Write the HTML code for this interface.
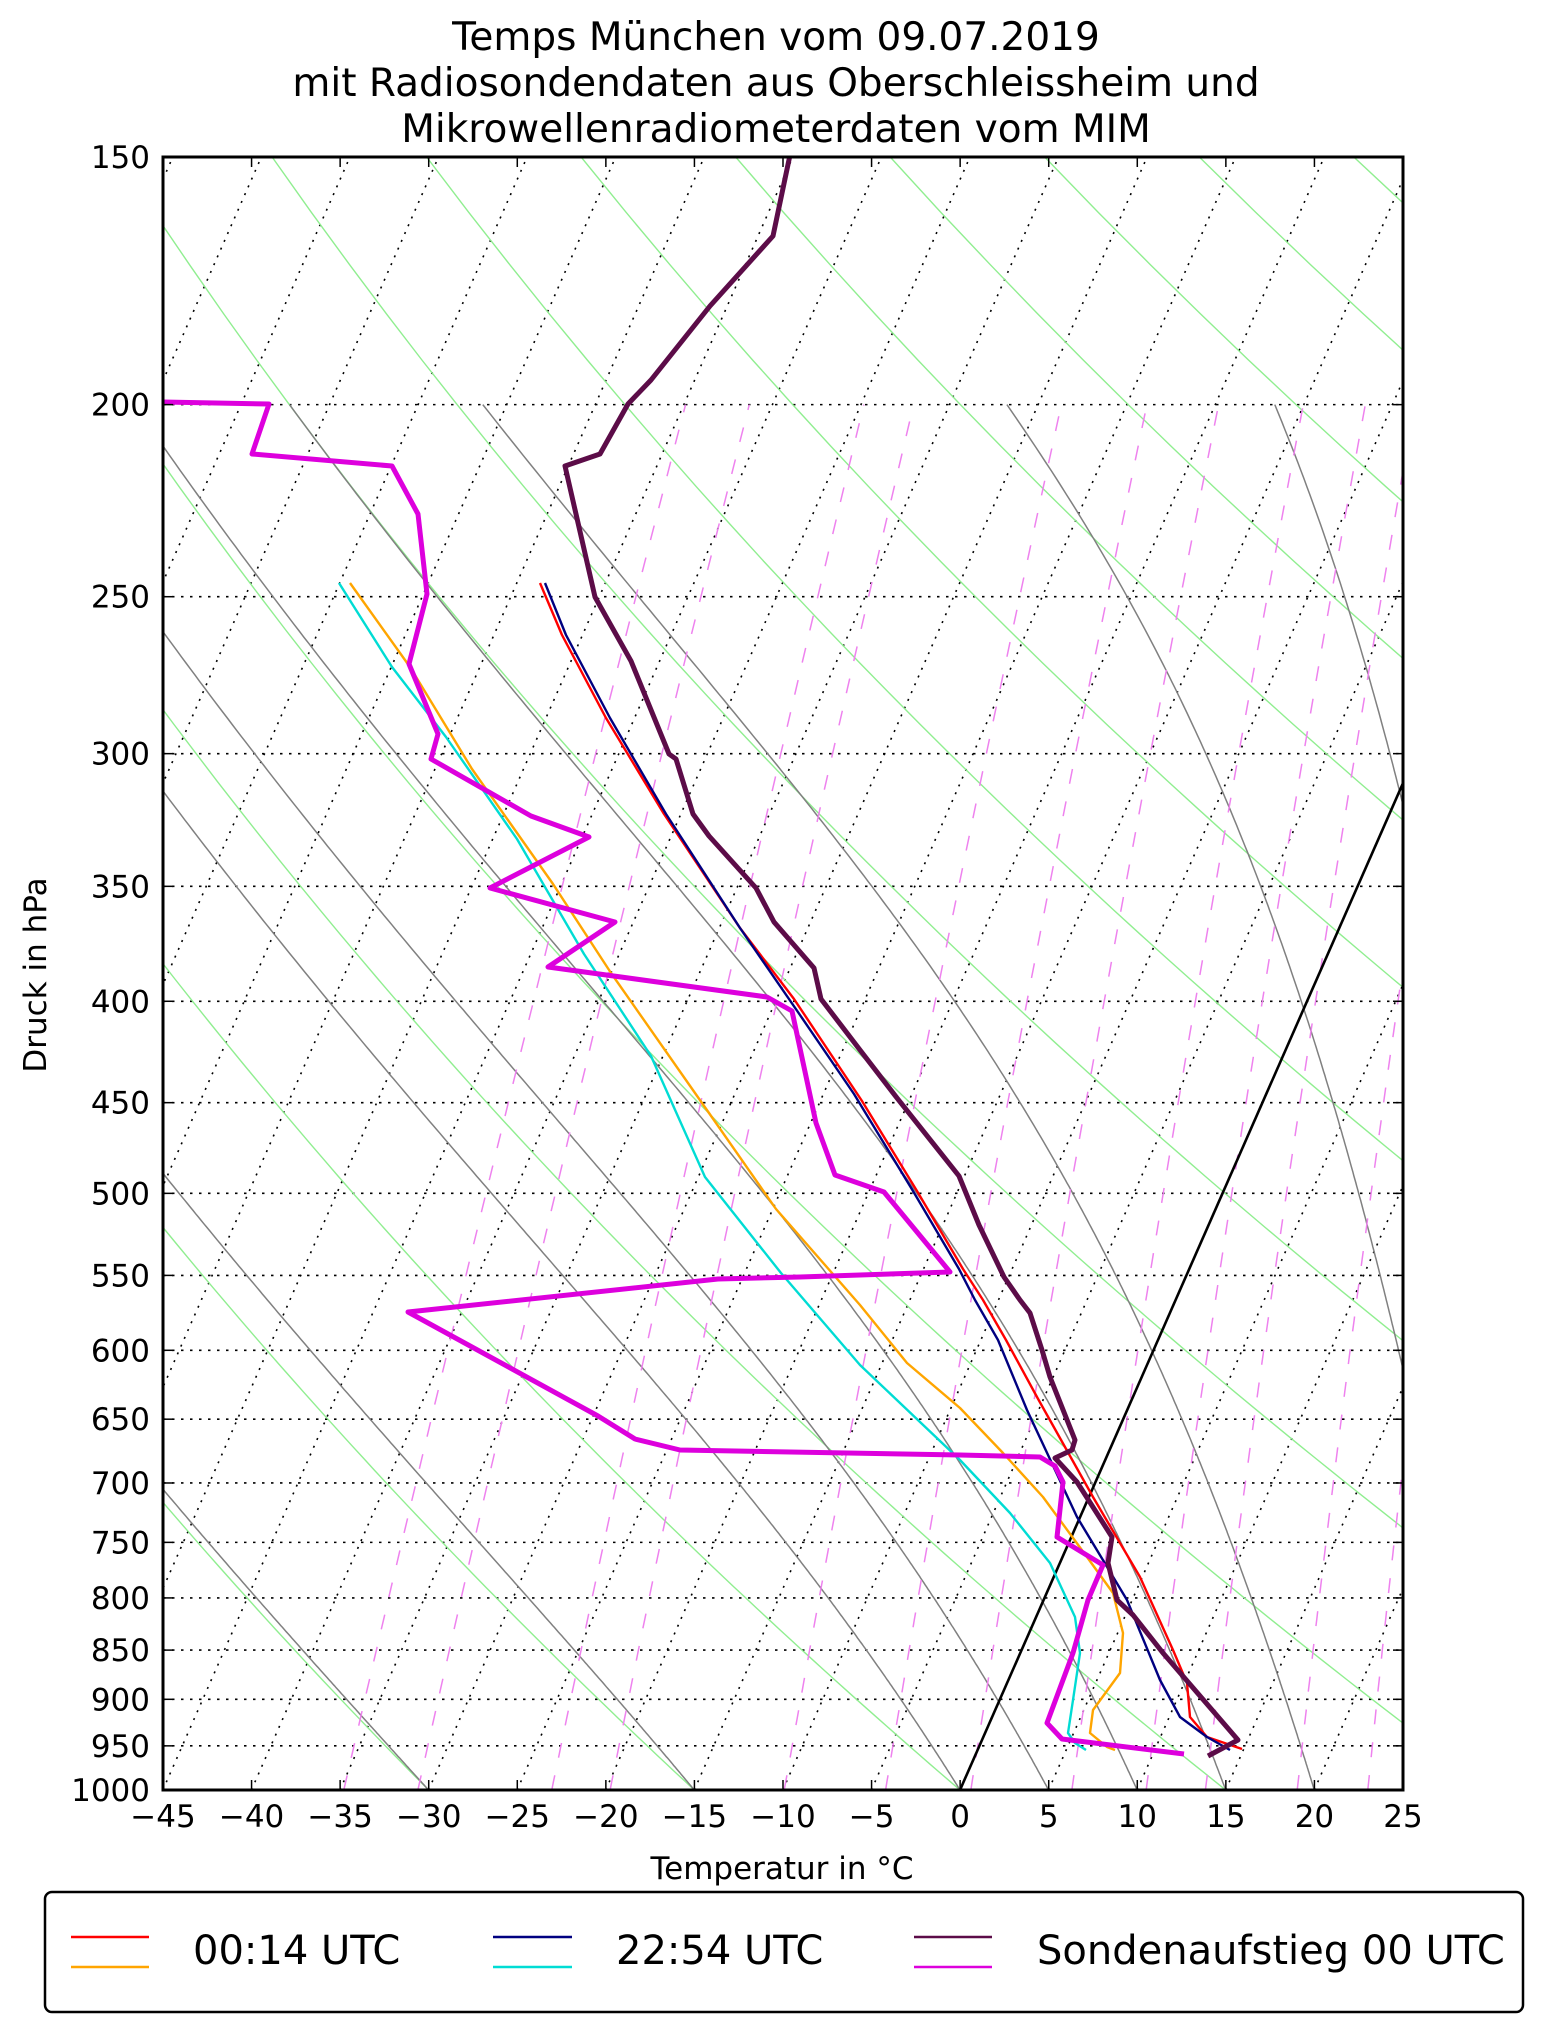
<!DOCTYPE html>
<html><head><meta charset="utf-8">
<style>
html,body{margin:0;padding:0;background:#fff;}
svg{display:block;}
text{font-family:"DejaVu Sans","Liberation Sans",sans-serif;fill:#000;}
</style></head>
<body>
<svg id="s" width="1542" height="2032" viewBox="0 0 1542 2032" xmlns="http://www.w3.org/2000/svg">
<defs><clipPath id="c"><rect x="163" y="157" width="1240" height="1633"/></clipPath></defs>
<rect width="1542" height="2032" fill="#fff"/>
<g id="bg" clip-path="url(#c)"></g>
<g clip-path="url(#c)" fill="none" stroke-linejoin="round" stroke-linecap="butt">
<line x1="960" y1="1790" x2="1678.5" y2="157" stroke="#000" stroke-width="2.6"/>
<polyline stroke="#ffa500" stroke-width="2.4" points="350,583 410,667 472,769 553,884 611,973 709,1113 776,1209 860,1305 907,1363 960,1408 1003,1453 1043,1497 1087,1557 1113,1593 1123,1633 1120,1673 1093,1710 1090,1733 1107,1747 1115,1750"/>
<polyline stroke="#00dcd4" stroke-width="2.4" points="339,583 392,667 446,737 517,839 584,954 651,1056 705,1177 781,1273 860,1365 960,1460 1010,1513 1050,1563 1075,1617 1080,1653 1073,1700 1068,1733 1075,1743 1086,1750"/>
<polyline stroke="#ff0000" stroke-width="2.4" points="540,583 562,635 606,718 664,814 740,928 794,999 862,1101 917,1191 963,1269 983,1300 1006,1340 1037,1397 1093,1497 1140,1577 1173,1650 1187,1683 1190,1717 1207,1737 1242,1749"/>
<polyline stroke="#000080" stroke-width="2.4" points="545,583 566,635 610,718 666,814 740,928 800,1015 854,1094 913,1191 959,1269 975,1300 998,1340 1027,1410 1077,1517 1127,1600 1160,1680 1180,1717 1207,1737 1230,1750"/>
<polyline stroke="#dd00dd" stroke-width="5" points="160,402 269,404 252,454 392,466 418,514 427,594 409,664 438,734 431,759 531,816 589,837 490,888 615,922 548,967 767,997 792,1011 816,1123 835,1175 884,1192 950,1272 800,1277 718,1279 408,1312 598,1416 635,1439 680,1450 960,1455 1040,1457 1055,1466 1063,1482 1057,1537 1103,1565 1088,1600 1073,1653 1047,1723 1062,1739 1184,1754"/>
<polyline stroke="#5c0c48" stroke-width="5" points="790,155 773,236 710,306 651,380 628,404 600,454 565,466 595,597 631,661 669,754 676,759 693,814 709,836 756,888 774,922 814,968 821,999 860,1050 897,1098 959,1176 979,1225 1004,1277 1020,1300 1030,1313 1042,1350 1050,1377 1075,1440 1072,1450 1055,1458 1077,1482 1112,1537 1108,1563 1117,1600 1133,1615 1163,1653 1238,1740 1208,1756"/>
</g>
<g id="ticks" stroke="#000" stroke-width="1.5"></g>
<rect x="163" y="157" width="1240" height="1633" fill="none" stroke="#000" stroke-width="3"/>
<g id="lab" font-size="31"></g>
<text x="776" y="50" font-size="39" text-anchor="middle">Temps München vom 09.07.2019</text>
<text x="776" y="96" font-size="39" text-anchor="middle">mit Radiosondendaten aus Oberschleissheim und</text>
<text x="776" y="142" font-size="39" text-anchor="middle">Mikrowellenradiometerdaten vom MIM</text>
<text x="782" y="1879" font-size="31" text-anchor="middle">Temperatur in °C</text>
<text x="0" y="0" font-size="31" text-anchor="middle" transform="translate(46,975) rotate(-90)">Druck in hPa</text>
<rect x="45" y="1892" width="1478" height="120" rx="7" ry="7" fill="#fff" stroke="#000" stroke-width="2.5"/>
<g stroke-width="2.6">
<line x1="71" y1="1937" x2="149" y2="1937" stroke="#ff0000"/>
<line x1="71" y1="1967" x2="149" y2="1967" stroke="#ffa500"/>
<line x1="493" y1="1937" x2="572" y2="1937" stroke="#000080"/>
<line x1="493" y1="1967" x2="572" y2="1967" stroke="#00dcd4"/>
<line x1="914" y1="1937" x2="992" y2="1937" stroke="#5c0c48"/>
<line x1="914" y1="1967" x2="992" y2="1967" stroke="#dd00dd"/>
</g>
<text x="193" y="1964" font-size="40">00:14 UTC</text>
<text x="616" y="1964" font-size="40">22:54 UTC</text>
<text x="1037" y="1964" font-size="40">Sondenaufstieg 00 UTC</text>
</svg>
<script>
(function(){
var NS="http://www.w3.org/2000/svg";
var S=0.44, PX=17.7143, LN=Math.log(1000/150);
function Y(p){return 157+Math.log(p/150)/LN*1633;}
function X(T,y){return 960+T*PX+(1790-y)*S;}
var bg=document.getElementById('bg');
function el(tag,attrs,parent){var e=document.createElementNS(NS,tag);for(var k in attrs)e.setAttribute(k,attrs[k]);(parent||bg).appendChild(e);return e;}
for(var T=-90;T<=25;T+=5){
 el('line',{x1:X(T,1790),y1:1790,x2:X(T,157),y2:157,stroke:'#000','stroke-width':1.6,'stroke-dasharray':'2 6.5',fill:'none'});
}
for(var p=200;p<=950;p+=50){var y=Y(p);
 el('line',{x1:163,y1:y,x2:1403,y2:y,stroke:'#000','stroke-width':1.6,'stroke-dasharray':'2.5 6.5'});}
function poly(pts,attrs){var s=pts.map(function(q){return q[0].toFixed(1)+','+q[1].toFixed(1);}).join(' ');attrs.points=s;attrs.fill='none';el('polyline',attrs);}
for(var th=-120;th<=195;th+=15){var pts=[];
 for(var p=1000;p>=145;p-=10){var T=(th+273.15)*Math.pow(p/1000,0.2857)-273.15;var y=Y(p);pts.push([X(T,y),y]);}
 poly(pts,{stroke:'#90ee90','stroke-width':1.4});}
function es(Tc){return 6.112*Math.exp(17.67*Tc/(Tc+243.5));}
function dTdp(p,TK){var Rd=287.04,Cp=1005.7,Lv=2.501e6,eps=0.622;var e=es(TK-273.15);var rs=eps*e/(p-e);
 return (Rd*TK+Lv*rs)/(Cp+Lv*Lv*rs*eps/(Rd*TK*TK))/p;}
[-30,-15,0,5,10,15,20,30,35].forEach(function(t0){
 var TK=t0+273.15,p=1000,dp=-2,pts=[[X(t0,1790),1790]];
 while(p>200){var k1=dTdp(p,TK);var k2=dTdp(p+dp/2,TK+k1*dp/2);TK+=k2*dp;p+=dp;var y=Y(p);pts.push([X(TK-273.15,y),y]);}
 poly(pts,{stroke:'#808080','stroke-width':1.5});
});
[0.2,0.3,0.6,0.8,1.8,2.8,4,6,8,10,14,18,24,30,40].forEach(function(w){
 var pts=[];for(var p=1000;p>=200;p-=10){var wk=w/1000;var e=p*wk/(0.622+wk);var l=Math.log(e/6.112);var Td=243.5*l/(17.67-l);var y=Y(p);pts.push([X(Td,y),y]);}
 poly(pts,{stroke:'#ee82ee','stroke-width':1.5,'stroke-dasharray':'15 18'});
});
var tg=document.getElementById('ticks'),lab=document.getElementById('lab');
for(var p=150;p<=1000;p+=50){var y=Y(p);
 el('line',{x1:163,y1:y,x2:173,y2:y},tg);el('line',{x1:1393,y1:y,x2:1403,y2:y},tg);
 var t=el('text',{x:150,y:y+11,'text-anchor':'end'},lab);t.textContent=String(p);}
for(var T=-45;T<=25;T+=5){var x=163+(T+45)*PX;
 el('line',{x1:x,y1:1790,x2:x,y2:1780},tg);el('line',{x1:x,y1:157,x2:x,y2:167},tg);
 var t=el('text',{x:x,y:1827,'text-anchor':'middle'},lab);t.textContent=(T<0?'\u2212':'')+Math.abs(T);}
})();
</script>
</body></html>
